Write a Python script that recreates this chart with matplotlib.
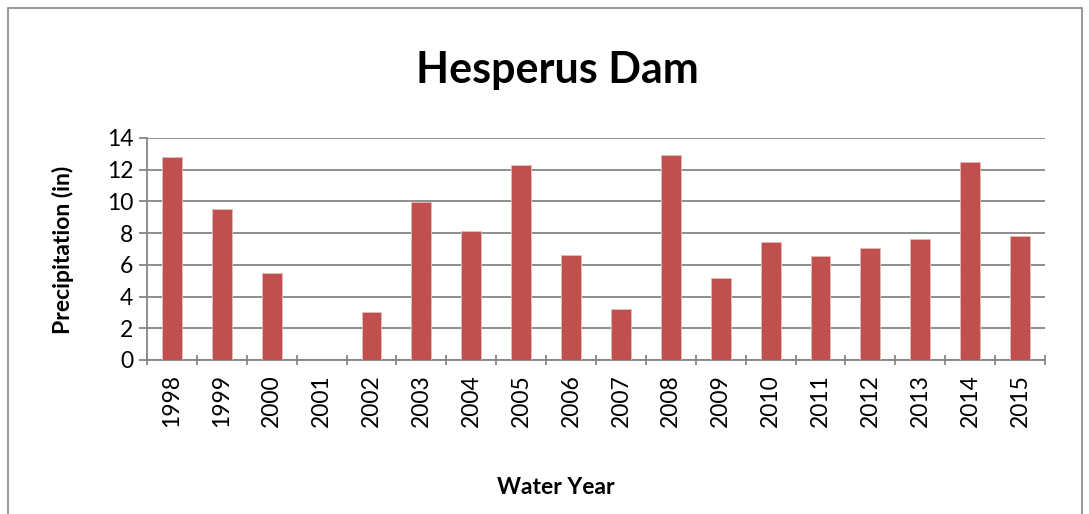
import matplotlib.pyplot as plt
import numpy as np
from matplotlib.patches import Rectangle

# Water year precipitation at Hesperus Dam (in)
years = ['1998', '1999', '2000', '2001', '2002', '2003', '2004', '2005', '2006',
         '2007', '2008', '2009', '2010', '2011', '2012', '2013', '2014', '2015']
precip = [12.82, 9.50, 5.51, 0.0, 3.05, 9.98, 8.15, 12.29, 6.64,
          3.19, 12.95, 5.19, 7.42, 6.54, 7.04, 7.61, 12.50, 7.82]

plt.rcParams['font.family'] = ['Lato', 'DejaVu Sans']

fig = plt.figure(figsize=(10.89, 5.14), dpi=100)
ax = fig.add_axes([147 / 1089, 1 - 360 / 514, (1045 - 147) / 1089, (360 - 138) / 514])

# chart border (Excel style)
fig.patches.append(Rectangle((8 / 1089, -0.05), (1082 - 8) / 1089, 1.05 - 8 / 514,
                             transform=fig.transFigure, fill=False,
                             edgecolor='#868686', linewidth=1.2))

x = np.arange(len(years))
ax.bar(x, precip, width=0.4, color='#C0504D', edgecolor='#E6B9B8', linewidth=0.6, zorder=3)

ax.set_xlim(-0.5, len(years) - 0.5)
ax.set_ylim(0, 14)
ax.set_yticks(np.arange(0, 15, 2))
ax.yaxis.grid(True, color='#868686', linewidth=1.3)
ax.set_axisbelow(True)

ax.set_xticks(x)
ax.set_xticklabels(years, rotation=90, fontsize=16.5)
ax.set_xticks(np.arange(-0.5, len(years), 1), minor=True)
ax.tick_params(axis='x', which='major', length=0, pad=10)
ax.tick_params(axis='x', which='minor', length=7, direction='inout', color='#868686', width=1.3)
ax.tick_params(axis='y', labelsize=16.5, length=6, color='#868686', width=1.3, pad=4)

for s in ['top', 'right']:
    ax.spines[s].set_visible(False)
for s in ['left', 'bottom']:
    ax.spines[s].set_color('#868686')
    ax.spines[s].set_linewidth(1.3)

fig.text(63 / 1089, 1 - 250 / 514, 'Precipitation (in)', fontsize=16.5, fontweight='bold',
         rotation=90, ha='center', va='center')
fig.text(556 / 1089, 1 - 487 / 514, 'Water Year', fontsize=16.5, fontweight='bold',
         ha='center', va='center')
fig.text(557 / 1089, 1 - 70 / 514, 'Hesperus Dam', fontsize=31, fontweight='bold',
         ha='center', va='center')

fig.savefig('out.png', dpi=100)
